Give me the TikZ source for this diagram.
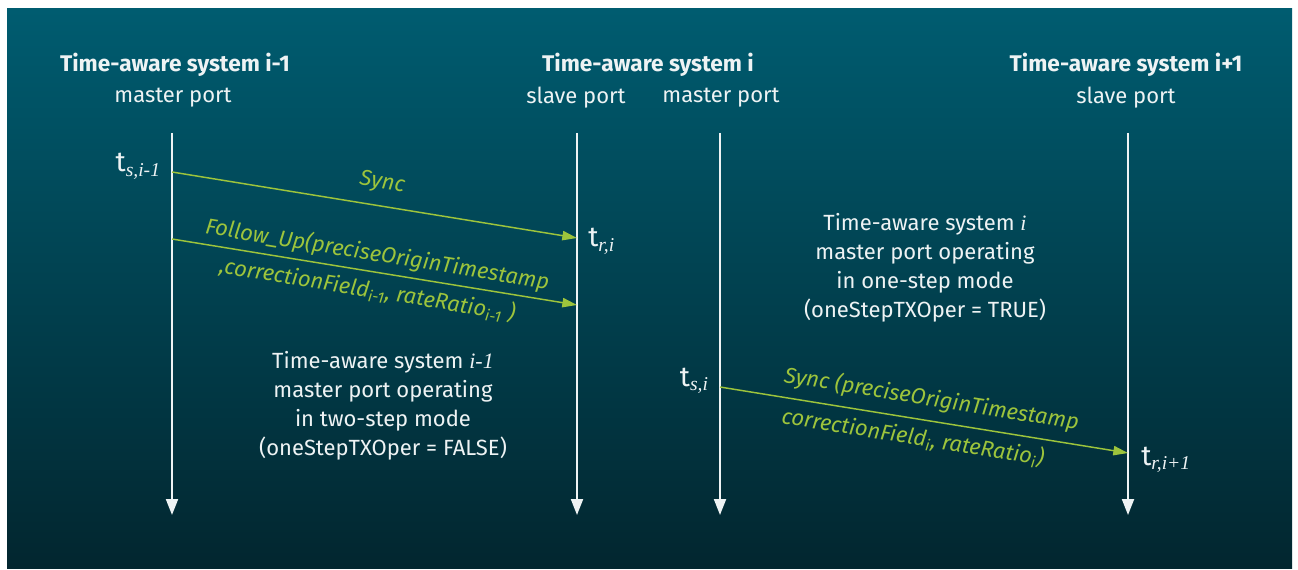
\documentclass[tikz,border=0pt]{standalone}
\usepackage{fontspec}
\setmainfont{Fira Sans}
\newfontfamily\idxfont{Liberation Serif}
\usepackage{xcolor}
\definecolor{BgTop}{HTML}{005C70}
\definecolor{BgBottom}{HTML}{02262F}
\definecolor{MsgGreen}{HTML}{9DC43C}
\definecolor{PaleText}{HTML}{EEF3F4}
\usetikzlibrary{arrows.meta}
\newcommand{\idx}[1]{\textsubscript{\idxfont\itshape #1}}
\tikzset{
  lifeline/.style={
    draw=PaleText,
    line width=1.5pt,
    -{Triangle[length=12pt,width=9pt]}
  },
  msgline/.style={
    draw=MsgGreen,
    line width=1.1pt,
    -{Triangle[length=11pt,width=7pt]}
  },
  sysname/.style={
    text=PaleText,
    font=\fontsize{17}{20}\selectfont\bfseries,
    inner sep=0pt
  },
  portname/.style={
    text=PaleText,
    font=\fontsize{16.5}{20}\selectfont,
    inner sep=0pt
  },
  stamp/.style={
    text=PaleText,
    font=\fontsize{21}{24}\selectfont,
    inner sep=0pt
  },
  msglabel/.style={
    text=MsgGreen,
    font=\fontsize{16.5}{20}\selectfont\itshape,
    sloped,
    inner sep=0pt
  },
  modenote/.style={
    text=PaleText,
    align=center,
    font=\fontsize{16.5}{21.75}\selectfont,
    inner sep=0pt
  }
}

\begin{document}
\begin{tikzpicture}[x=0.75pt,y=-0.75pt]
  \useasboundingbox (0,0) rectangle (1298,570);
  \shade[top color=BgTop,bottom color=BgBottom] (7,9) rectangle (1292,568);

  % headers
  \node[sysname] (titleA) at (175,65) {Time-aware system i-1};
  \node[sysname] (titleB) at (648,65) {Time-aware system i};
  \node[sysname] (titleC) at (1126,65) {Time-aware system i+1};
  \node[portname] (portA) at (173,98) {master port};
  \node[portname] (portBs) at (576,98) {slave port};
  \node[portname] (portBm) at (721,98) {master port};
  \node[portname] (portC) at (1126,98) {slave port};

  % lifelines
  \coordinate (mstA-top) at (172,133);  \coordinate (mstA-end) at (172,515);
  \coordinate (slvB-top) at (577,133);  \coordinate (slvB-end) at (577,515);
  \coordinate (mstB-top) at (720,133);  \coordinate (mstB-end) at (720,515);
  \coordinate (slvC-top) at (1128,133); \coordinate (slvC-end) at (1128,515);
  \foreach \lane in {mstA,slvB,mstB,slvC}{\draw[lifeline] (\lane-top) -- (\lane-end);}

  % message ends on the lifelines
  \coordinate (syncA-out) at (172,172);   \coordinate (syncA-in) at (577,238);
  \coordinate (fupA-out) at (172,239);    \coordinate (fupA-in) at (577,305);
  \coordinate (syncB-out) at (720,387);   \coordinate (syncB-in) at (1128,453);

  \draw[msgline] (syncA-out) -- node[msglabel,above=9pt,pos=0.51] (syncAlbl) {Sync} (syncA-in);
  \draw[msgline] (fupA-out) --
    node[msglabel,above=4pt,pos=0.5] (fupAtop) {Follow\_Up(preciseOriginTimestamp}
    node[msglabel,below=5pt,pos=0.49] (fupAbot) {,correctionField\textsubscript{i-1}, rateRatio\textsubscript{i-1} )}
    (fupA-in);
  \draw[msgline] (syncB-out) --
    node[msglabel,above=7pt,pos=0.51] (syncBtop) {Sync (preciseOriginTimestamp}
    node[msglabel,below=5pt,pos=0.48] (syncBbot) {correctionField\textsubscript{i}, rateRatio\textsubscript{i})}
    (syncB-in);

  % time stamps
  \node[stamp,anchor=base east] (tsA) at (161,172) {t\idx{s,i-1}};
  \node[stamp,anchor=base west] (trB) at (588,247) {t\idx{r,i}};
  \node[stamp,anchor=base east] (tsB) at (709,386) {t\idx{s,i}};
  \node[stamp,anchor=base west] (trC) at (1141,465) {t\idx{r,i+1}};

  % operating modes
  \node[modenote] (modeA) at (383,406) {Time-aware system {\idxfont\itshape i-1}\\master port operating\\in two-step mode\\(oneStepTXOper = FALSE)};
  \node[modenote] (modeB) at (925,268) {Time-aware system {\idxfont\itshape i}\\master port operating\\in one-step mode\\(oneStepTXOper = TRUE)};
\end{tikzpicture}
\end{document}
